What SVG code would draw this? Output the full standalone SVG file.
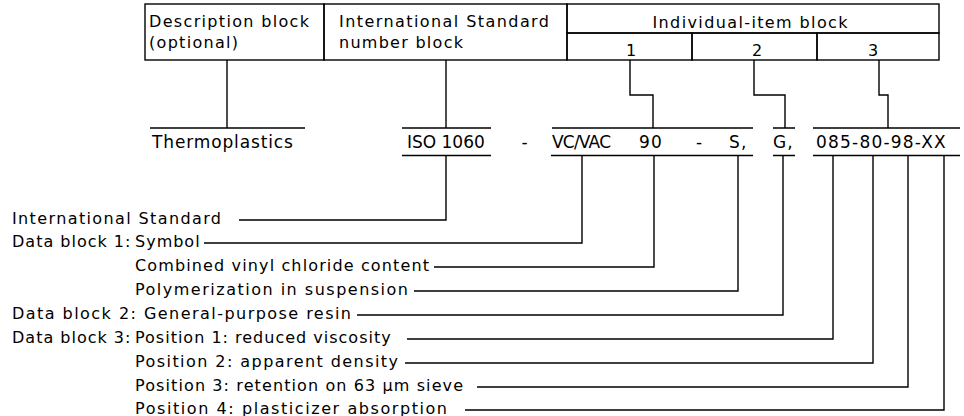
<svg xmlns="http://www.w3.org/2000/svg" width="964" height="416" viewBox="0 0 964 416">
<style>
  text { font-family: "DejaVu Sans", "Liberation Sans", sans-serif; font-size: 16px; fill: #000; }
  .ls { letter-spacing: 1px; }
  .dz { font-size: 17px; letter-spacing: 1.2px; }
  .mid { text-anchor: middle; }
  .ln { fill: none; stroke: #000; stroke-width: 1.4; }
</style>
<rect width="964" height="416" fill="#fff"/>

<g id="table">
  <g id="desc-block">
    <rect class="ln" x="145" y="4" width="179" height="56"/>
    <text x="149" y="27" textLength="160" lengthAdjust="spacing">Description block</text>
    <text x="149" y="48" textLength="89" lengthAdjust="spacing">(optional)</text>
  </g>
  <g id="isn-block">
    <rect class="ln" x="324" y="4" width="243" height="56"/>
    <text x="339" y="27" textLength="210" lengthAdjust="spacing">International Standard</text>
    <text x="339" y="48" textLength="124" lengthAdjust="spacing">number block</text>
  </g>
  <g id="item-block">
    <rect class="ln" x="567" y="4" width="372" height="29"/>
    <text x="750" y="28" class="mid" textLength="195" lengthAdjust="spacing">Individual-item block</text>
  </g>
  <g id="item-1">
    <rect class="ln" x="567" y="33" width="125" height="27"/>
    <text x="631" y="56" class="mid">1</text>
  </g>
  <g id="item-2">
    <rect class="ln" x="692" y="33" width="125" height="27"/>
    <text x="757" y="56" class="mid">2</text>
  </g>
  <g id="item-3">
    <rect class="ln" x="817" y="33" width="122" height="27"/>
    <text x="873" y="56" class="mid">3</text>
  </g>
</g>

<g id="designation">
  <g id="d-thermo"><text x="152" y="148" class="dz" textLength="142" lengthAdjust="spacing">Thermoplastics</text></g>
  <g id="d-iso"><text x="407" y="148" class="dz" textLength="79" lengthAdjust="spacing">ISO 1060</text></g>
  <g id="d-dash1"><text x="524.5" y="148" class="mid" style="font-size:17px">-</text></g>
  <g id="d-vc"><text x="552" y="148" textLength="59" lengthAdjust="spacing" style="font-size:17px">VC/VAC</text></g>
  <g id="d-90"><text x="639" y="148" class="dz">90</text></g>
  <g id="d-dash2"><text x="699" y="148" class="mid" style="font-size:17px">-</text></g>
  <g id="d-s"><text x="729" y="148" class="dz">S,</text></g>
  <g id="d-g"><text x="773" y="148" class="dz">G,</text></g>
  <g id="d-num"><text x="816" y="148" class="dz">085-80-98-XX</text></g>
</g>

<g id="labels">
  <g id="l-is"><text x="12" y="223.5" textLength="209" lengthAdjust="spacing">International Standard</text></g>
  <g id="l-db1"><text class="ls" y="246.5"><tspan x="12">Data block 1:</tspan><tspan x="135">Symbol</tspan></text></g>
  <g id="l-vc"><text x="135" y="270.5" textLength="294" lengthAdjust="spacing">Combined vinyl chloride content</text></g>
  <g id="l-poly"><text x="135" y="294.5" textLength="273" lengthAdjust="spacing">Polymerization in suspension</text></g>
  <g id="l-db2"><text x="12" y="318.5" textLength="339" lengthAdjust="spacing">Data block 2: General-purpose resin</text></g>
  <g id="l-db3"><text class="ls" y="342.5"><tspan x="12">Data block 3:</tspan><tspan x="135">Position 1: reduced viscosity</tspan></text></g>
  <g id="l-p2"><text x="135" y="366.5" textLength="263" lengthAdjust="spacing">Position 2: apparent density</text></g>
  <g id="l-p3"><text x="135" y="390.5" textLength="328" lengthAdjust="spacing">Position 3: retention on 63 µm sieve</text></g>
  <g id="l-p4"><text x="135" y="413.5" textLength="312" lengthAdjust="spacing">Position 4: plasticizer absorption</text></g>
</g>

<g id="connectors" class="ln">
  <path d="M150,128 H305"/>
  <path d="M402,128 H491 M402,155.5 H491"/>
  <path d="M552,128 H753 M551,155.5 H753"/>
  <path d="M773,128 H795 M773,155.5 H795"/>
  <path d="M813,128 H960 M813,155.5 H960"/>
  <path d="M227,60 V128"/>
  <path d="M446,60 V128"/>
  <path d="M630,60 V95 H653 V128"/>
  <path d="M754,60 V95 H785 V128"/>
  <path d="M879,60 V95 H888 V128"/>
  <path d="M446,155.5 V220 H239"/>
  <path d="M582,155.5 V243 H204"/>
  <path d="M654,155.5 V267 H434"/>
  <path d="M738,155.5 V291 H414"/>
  <path d="M783,155.5 V315 H357"/>
  <path d="M833,155.5 V339 H407"/>
  <path d="M873,155.5 V363 H405"/>
  <path d="M908,155.5 V387 H477"/>
  <path d="M944,155.5 V410 H465"/>
</g>
</svg>
